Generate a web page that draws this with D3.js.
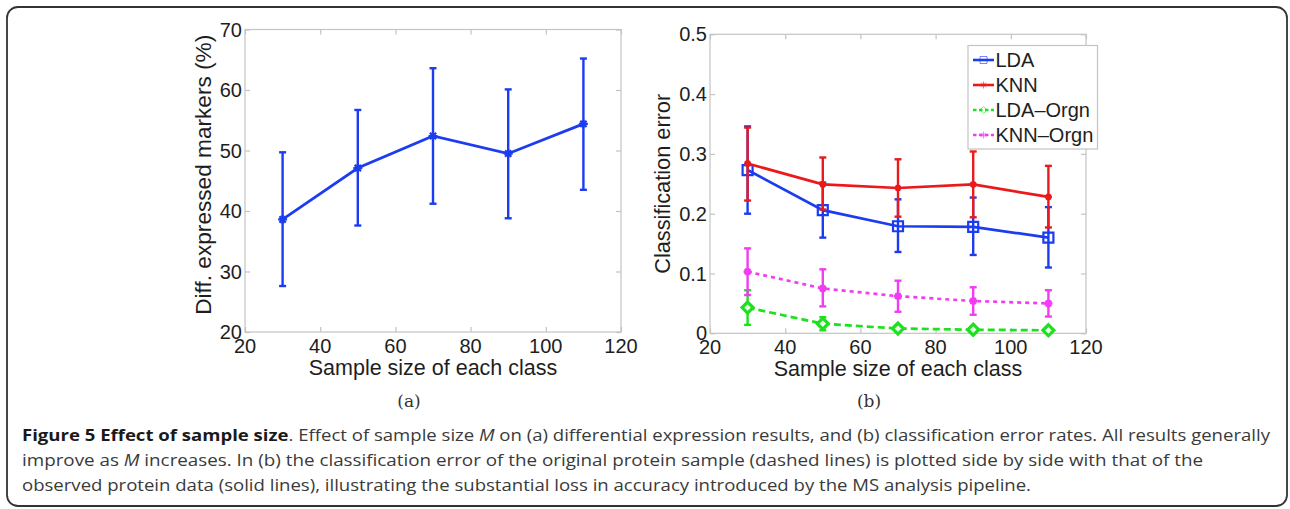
<!DOCTYPE html>
<html>
<head>
<meta charset="utf-8">
<script src="https://cdn.jsdelivr.net/npm/d3@7"></script>
<style>
html,body{margin:0;padding:0;background:#fff;}
svg{display:block;}
</style>
</head>
<body>
<svg id="fig" width="1290" height="509"></svg>
<script>
// ---------------- data ----------------
const sampleSizes = [30, 50, 70, 90, 110];
const xTickValues = [20, 40, 60, 80, 100, 120];

// (a) differential expression
const diffYTicks = [20, 30, 40, 50, 60, 70];
const diffMean = [38.6, 47.1, 52.4, 49.5, 54.4];
const diffHi   = [49.7, 56.7, 63.6, 60.1, 65.2];
const diffLo   = [27.6, 37.6, 41.2, 38.8, 43.5];

// (b) classification error
const errYTicks = [0, 0.1, 0.2, 0.3, 0.4, 0.5];
const seriesNames = ["LDA", "KNN", "LDA\u2013Orgn", "KNN\u2013Orgn"];
const ldaMean  = [0.273, 0.206, 0.179, 0.178, 0.160];
const ldaHi    = [0.346, 0.252, 0.224, 0.227, 0.211];
const ldaLo    = [0.200, 0.160, 0.136, 0.131, 0.110];
const knnMean  = [0.284, 0.249, 0.243, 0.249, 0.228];
const knnHi    = [0.344, 0.294, 0.291, 0.304, 0.280];
const knnLo    = [0.222, 0.207, 0.195, 0.194, 0.177];
const ldaOMean = [0.043, 0.016, 0.008, 0.006, 0.005];
const ldaOHi   = [0.072, 0.027, 0.013, 0.010, 0.009];
const ldaOLo   = [0.014, 0.005, 0.003, 0.002, 0.001];
const knnOMean = [0.103, 0.075, 0.062, 0.054, 0.050];
const knnOHi   = [0.142, 0.107, 0.088, 0.077, 0.072];
const knnOLo   = [0.064, 0.045, 0.036, 0.031, 0.028];

const captionBold = "Figure 5 Effect of sample size";
// ---------------------------------------

const svg = d3.select("#fig");
const FONT = "'Liberation Sans', Arial, Helvetica, sans-serif";
const AX = "#c4c4c4";
const TXT = "#1e1e1e";

// outer rounded frame
svg.append("rect").attr("x", 7).attr("y", 7).attr("width", 1280).attr("height", 499)
  .attr("rx", 11).attr("fill", "none").attr("stroke", "#333").attr("stroke-width", 1.8);

const markers = {
  star: s => `M${-s},0L${s},0M0,${-s}L0,${s}M${-s*0.7},${-s*0.7}L${s*0.7},${s*0.7}M${-s*0.7},${s*0.7}L${s*0.7},${-s*0.7}`,
  square: s => `M${-s},${-s}L${s},${-s}L${s},${s}L${-s},${s}Z`,
  diamond: s => `M0,${-s}L${s},0L0,${s}L${-s},0Z`
};

function makeAxes(box, yDomain, yTicks, yFmt, yTitle, yTitleLen) {
  const g = svg.append("g");
  const x = d3.scaleLinear().domain([20, 120]).range([box.x0, box.x1]);
  const y = d3.scaleLinear().domain(yDomain).range([box.y1, box.y0]);
  g.append("rect").attr("x", box.x0).attr("y", box.y0)
    .attr("width", box.x1 - box.x0).attr("height", box.y1 - box.y0)
    .attr("fill", "none").attr("stroke", AX).attr("stroke-width", 1.2);
  const tl = 5;
  const bottom = d3.axisBottom(x).tickValues(xTickValues).tickSize(-tl).tickFormat("");
  const top = d3.axisTop(x).tickValues(xTickValues).tickSize(-tl).tickFormat("");
  const left = d3.axisLeft(y).tickValues(yTicks).tickSize(-tl).tickFormat("");
  const right = d3.axisRight(y).tickValues(yTicks).tickSize(-tl).tickFormat("");
  [[bottom, `translate(0,${box.y1})`], [top, `translate(0,${box.y0})`],
   [left, `translate(${box.x0},0)`], [right, `translate(${box.x1},0)`]].forEach(([a, t]) => {
    const ag = g.append("g").attr("transform", t).call(a);
    ag.select(".domain").remove();
    ag.selectAll("line").attr("stroke", AX).attr("stroke-width", 1.2);
  });
  g.selectAll(".xl").data(xTickValues).enter().append("text")
    .attr("x", d => x(d)).attr("y", box.y1 + 21)
    .attr("text-anchor", "middle").attr("font-family", FONT).attr("font-size", 20)
    .attr("fill", TXT).text(d => d);
  g.selectAll(".yl").data(yTicks).enter().append("text")
    .attr("x", box.x0 - 3).attr("y", d => y(d) + 7)
    .attr("text-anchor", "end").attr("font-family", FONT).attr("font-size", 20)
    .attr("fill", TXT).text(yFmt);
  g.append("text").attr("x", (box.x0 + box.x1) / 2).attr("y", box.y1 + 43)
    .attr("text-anchor", "middle").attr("font-family", FONT).attr("font-size", 21.5)
    .attr("fill", TXT).text("Sample size of each class");
  g.append("text").attr("transform", `translate(${box.ytx},${(box.y0 + box.y1) / 2 + box.yty}) rotate(-90)`)
    .attr("text-anchor", "middle").attr("font-family", FONT).attr("font-size", 21.5)
    .attr("textLength", yTitleLen).attr("lengthAdjust", "spacingAndGlyphs")
    .attr("fill", TXT).text(yTitle);
  return {x, y, g};
}

function drawSeries(ax, mean, hi, lo, color, dash, marker, msize, mfill, mw) {
  const g = ax.g.append("g");
  const pts = sampleSizes.map((s, i) => ({s, m: mean[i], h: hi[i], l: lo[i]}));
  const cap = 3.5;
  pts.forEach(p => {
    const cx = ax.x(p.s);
    g.append("line").attr("x1", cx).attr("x2", cx).attr("y1", ax.y(p.h)).attr("y2", ax.y(p.l))
      .attr("stroke", color).attr("stroke-width", 2.4);
    [p.h, p.l].forEach(v => g.append("line").attr("x1", cx - cap).attr("x2", cx + cap)
      .attr("y1", ax.y(v)).attr("y2", ax.y(v)).attr("stroke", color).attr("stroke-width", 2.4));
  });
  g.append("path").datum(pts)
    .attr("d", d3.line().x(p => ax.x(p.s)).y(p => ax.y(p.m)))
    .attr("fill", "none").attr("stroke", color).attr("stroke-width", 2.7)
    .attr("stroke-dasharray", dash || null);
  g.selectAll(".mk").data(pts).enter().append("path")
    .attr("transform", p => `translate(${ax.x(p.s)},${ax.y(p.m)})`)
    .attr("d", markers[marker](msize))
    .attr("fill", mfill || "none").attr("stroke", color).attr("stroke-width", mw || 2.2);
}

// ---------- panel (a) ----------
const axA = makeAxes({x0: 245, x1: 621, y0: 29.5, y1: 332, ytx: 211, yty: -6},
  [20, 70], diffYTicks, d => d, "Diff. expressed markers (%)", 280);
drawSeries(axA, diffMean, diffHi, diffLo, "#1c3cf0", null, "star", 4.5);

// ---------- panel (b) ----------
const axB = makeAxes({x0: 710, x1: 1086, y0: 34.3, y1: 333.3, ytx: 670, yty: 0},
  [0, 0.5], errYTicks, d => d === 0 ? "0" : d3.format(".1f")(d), "Classification error", 180);
const colors = ["#1c3cf0", "#ea1a1c", "#1ee01e", "#f23cf2"];
const dashes = [null, null, "7,4", "4,4"];
const mks = ["square", "star", "diamond", "star"];
const msz = [5, 3.5, 5.5, 4];
const mfl = ["none", "none", "#eaffea", "none"];
const mwd = [2.2, 2.2, 3.2, 2.4];
drawSeries(axB, ldaMean, ldaHi, ldaLo, colors[0], dashes[0], mks[0], msz[0], mfl[0], mwd[0]);
drawSeries(axB, knnMean, knnHi, knnLo, colors[1], dashes[1], mks[1], msz[1], mfl[1], mwd[1]);
drawSeries(axB, ldaOMean, ldaOHi, ldaOLo, colors[2], dashes[2], mks[2], msz[2], mfl[2], mwd[2]);
drawSeries(axB, knnOMean, knnOHi, knnOLo, colors[3], dashes[3], mks[3], msz[3], mfl[3], mwd[3]);

// legend
const lg = svg.append("g");
lg.append("rect").attr("x", 968).attr("y", 45.5).attr("width", 129.5).attr("height", 103.5)
  .attr("fill", "#fff").attr("stroke", AX).attr("stroke-width", 1.2);
seriesNames.forEach((n, i) => {
  const yy = 60 + i * 25;
  lg.append("line").attr("x1", 973).attr("x2", 994).attr("y1", yy).attr("y2", yy)
    .attr("stroke", colors[i]).attr("stroke-width", 2.6).attr("stroke-dasharray", dashes[i] ? "3.5,2.5" : null);
  lg.append("path").attr("transform", `translate(983.5,${yy})`).attr("d", markers[mks[i]](3.5))
    .attr("fill", "none").attr("stroke", colors[i]).attr("stroke-width", 1).attr("opacity", 0.6);
  lg.append("text").attr("x", 995.5).attr("y", yy + 7).attr("font-family", FONT)
    .attr("font-size", 20).attr("fill", TXT).text(n);
});

// sub-figure labels
const SERIF = "'DejaVu Serif', 'Liberation Serif', serif";
svg.append("text").attr("x", 409).attr("y", 407).attr("text-anchor", "middle")
  .attr("font-family", SERIF).attr("font-size", 17).attr("fill", "#333").text("(a)");
svg.append("text").attr("x", 869).attr("y", 407).attr("text-anchor", "middle")
  .attr("font-family", SERIF).attr("font-size", 17).attr("fill", "#333").text("(b)");

// caption
const CF = "'Open Sans', 'Noto Sans', sans-serif";
const capLines = [
  {y: 441, end: 1270, parts: [
    {t: captionBold, b: true}, {t: ". Effect of sample size "}, {t: "M", i: true},
    {t: " on (a) differential expression results, and (b) classification error rates. All results generally"}]},
  {y: 466, end: 1203, parts: [
    {t: "improve as "}, {t: "M", i: true},
    {t: " increases. In (b) the classification error of the original protein sample (dashed lines) is plotted side by side with that of the"}]},
  {y: 491, end: 1031, parts: [
    {t: "observed protein data (solid lines), illustrating the substantial loss in accuracy introduced by the MS analysis pipeline."}]}
];
capLines.forEach(L => {
  const t = svg.append("text").attr("x", 22).attr("y", L.y).attr("font-family", CF)
    .attr("font-size", 16).attr("fill", "#3a3a3a");
  L.parts.forEach(p => t.append("tspan").text(p.t)
    .attr("font-weight", p.b ? "bold" : null).attr("fill", p.b ? "#1a1a1a" : null)
    .attr("font-style", p.i ? "italic" : null));
  t.attr("textLength", L.end - 22).attr("lengthAdjust", "spacingAndGlyphs");
});
</script>
</body>
</html>
